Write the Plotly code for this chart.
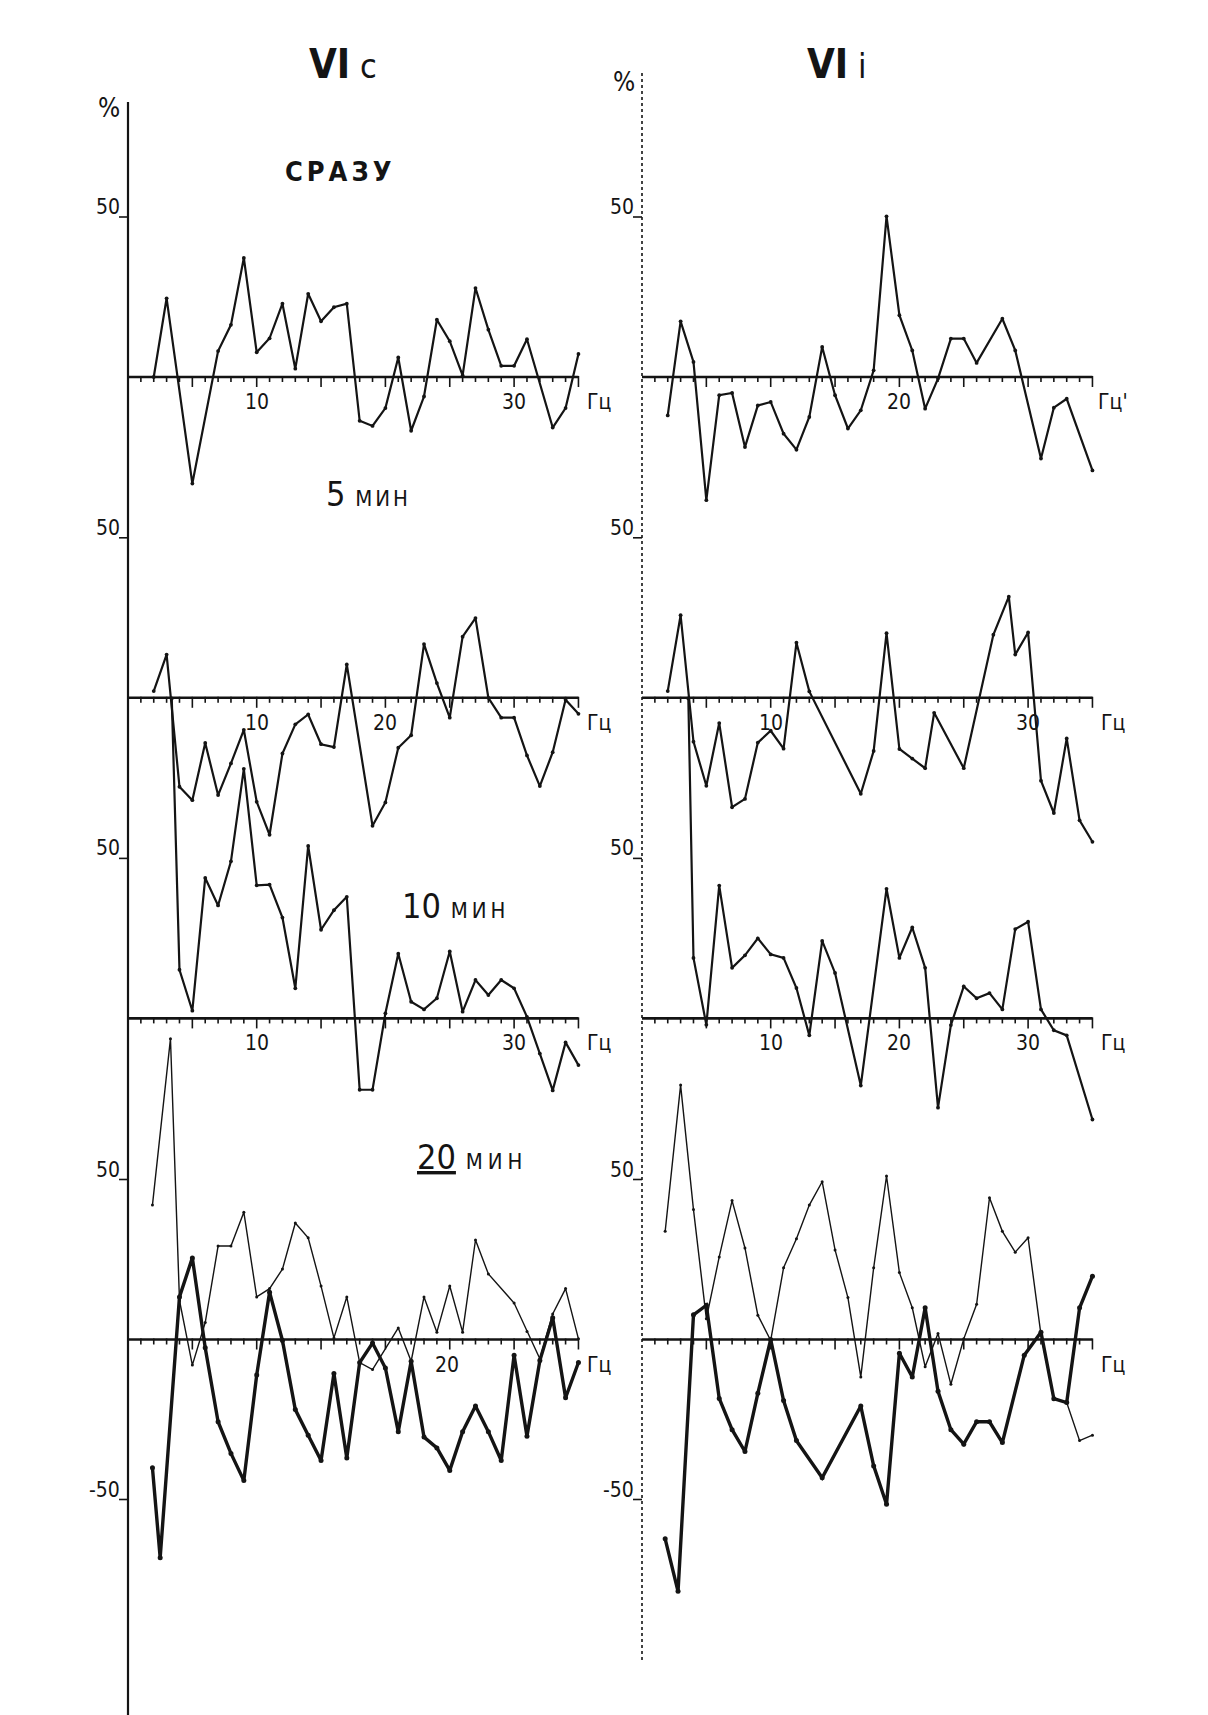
import plotly.graph_objects as go

# ---------------------------------------------------------------
# Page and scale geometry (pixels)
# ---------------------------------------------------------------
W, H = 1208, 1715
PX_PER_HZ = 12.87           # one frequency step along each baseline
PX_PER_PCT = 3.2            # one percent on the vertical scale
AXIS_PX_C = 128.0           # vertical axis of the "VIc" column
AXIS_PX_I = 642.0           # vertical axis of the "VIi" column
BASE_PX = [377.0, 697.8, 1018.4, 1339.5]   # zero line of each time panel
HZ_END = 35
HZ_TICKS = list(range(1, HZ_END + 1))

INK = "#141414"
NUM_FONT = "DejaVu Sans Condensed, DejaVu Sans"

# ---------------------------------------------------------------
# VIc, % change vs. frequency (Гц)
# ---------------------------------------------------------------
c0_hz = [2, 3, 5, 7, 8, 9, 10, 11, 12, 13, 14, 15, 16, 17, 18, 19, 20, 21, 22, 23,
         24, 25, 26, 27, 28, 29, 30, 31, 33, 34, 35]
c0_val = [0, 24.6, -33.3, 8.1, 16.3, 37.2, 7.7, 12.1, 22.9, 2.6, 26, 17.4, 21.8, 22.9,
          -13.7, -15.3, -9.7, 6.1, -16.8, -6.1, 17.9, 11.2, 0.5, 27.8, 14.8, 3.5, 3.5,
          11.8, -15.8, -9.7, 7.2]

c1_hz = [2, 3, 4, 5, 6, 7, 8, 9, 10, 11, 12, 13, 14, 15, 16, 17, 19, 20, 21, 22, 23,
         24, 25, 26, 27, 28, 29, 30, 31, 32, 33, 34, 35]
c1_val = [2.1, 13.5, -27.8, -32, -14.1, -30.4, -20.5, -10, -32.5, -42.8, -17.4, -8.3,
          -5.2, -14.5, -15.4, 10.4, -40, -32.7, -15.6, -11.7, 16.8, 4.6, -6.2, 19.1,
          24.9, 0, -6.2, -6.2, -18, -27.6, -17, -0.6, -5]

c2_hz = [3.4, 4, 5, 6, 7, 8, 9, 10, 11, 12, 13, 14, 15, 16, 17, 18, 19, 20, 21, 22,
         23, 24, 25, 26, 27, 28, 29, 30, 31, 32, 33, 34, 35]
c2_val = [100, 15.2, 2.4, 43.9, 35.3, 49.1, 78, 41.6, 41.8, 31.5, 9.4, 53.9, 27.7,
          33.8, 38, -22.3, -22.3, 1.6, 20.2, 5.2, 2.8, 6.3, 20.9, 2.1, 12, 7.3, 12,
          9.4, 0.5, -11, -22.5, -7.5, -14.6]

# 20 min: light curve (a) and heavy curve (b)
c3a_hz = [1.9, 3.3, 4, 5, 6, 7, 8, 9, 10, 11, 12, 13, 14, 15, 16, 17, 18, 19, 21, 22,
          23, 24, 25, 26, 27, 28, 30, 31, 32, 33, 34, 35]
c3a_val = [42, 94, 12.2, -8, 5.3, 29.2, 29.2, 39.8, 13.3, 15.9, 22, 36.4, 31.8, 16.7,
           0.5, 13.3, -7.2, -9.4, 3.6, -6.8, 13.3, 2.3, 16.7, 2.3, 31.1, 20.5, 11.4,
           2.5, -6, 8, 15.9, 0.2]

c3b_hz = [1.9, 2.5, 4, 5, 6, 7, 8, 9, 10, 11, 12, 13, 14, 15, 16, 17, 18, 19, 20, 21,
          22, 23, 24, 25, 26, 27, 28, 29, 30, 31, 32, 33, 34, 35]
c3b_val = [-40.1, -68.2, 13.3, 25.5, -2.6, -25.7, -35.6, -44.1, -11.1, 14.8, -0.3,
           -21.9, -29.9, -37.8, -10.6, -37, -7.2, -1.1, -8.9, -28.8, -6.8, -30.5, -33.9,
           -40.9, -28.8, -20.8, -28.8, -37.8, -4.9, -30.2, -6.6, 6.8, -18.2, -7.2]

# ---------------------------------------------------------------
# VIi, % change vs. frequency (Гц)
# ---------------------------------------------------------------
i0_hz = [2, 3, 4, 5, 6, 7, 8, 9, 10, 11, 12, 13, 14, 15, 16, 17, 18, 19, 20, 21, 22,
         23, 24, 25, 26, 28, 29, 31, 32, 33, 35]
i0_val = [-12, 17.4, 4.7, -38.5, -5.7, -5, -21.9, -8.9, -7.8, -17.7, -22.7, -12.5, 9.4,
          -5.7, -16.1, -10.4, 2.1, 50.2, 19.3, 8.3, -9.9, -0.5, 12, 12, 4.4, 18.2, 8.3,
          -25.5, -9.6, -6.8, -29.2]

i1_hz = [2, 3, 4, 5, 6, 7, 8, 9, 10, 11, 12, 13, 17, 18, 19, 20, 21, 22, 22.7, 25,
         27.3, 28.5, 29, 30, 31, 32, 33, 34, 35]
i1_val = [2.1, 25.8, -13.7, -27.5, -7.9, -34.2, -31.6, -14, -10.3, -15.9, 17.2, 2,
          -30, -16.6, 20.2, -16, -19, -22, -4.7, -22, 19.7, 31.6, 13.5, 20.4, -25.9,
          -36, -12.7, -38.3, -45]

i2_hz = [3.6, 4, 5, 6, 7, 8, 9, 10, 11, 12, 13, 14, 15, 17, 19, 20, 21, 22, 23, 24,
         25, 26, 27, 28, 29, 30, 31, 32, 33, 35]
i2_val = [100, 18.9, -2, 41.5, 15.8, 19.7, 25, 20, 18.9, 9.5, -5.3, 24.2, 14.2, -21,
          40.5, 18.9, 28.4, 15.8, -27.9, -2.1, 10, 6.3, 7.9, 2.8, 27.9, 30.2, 2.8,
          -3.7, -5.3, -31.6]

i3a_hz = [1.8, 3, 4, 5, 6, 7, 8, 9, 10, 11, 12, 13, 14, 15, 16, 17, 18, 19, 20, 21,
          22, 23, 24, 25, 26, 27, 28, 29, 30, 31, 32, 33, 34, 35]
i3a_val = [33.8, 79.5, 40.6, 6.5, 25.8, 43.4, 28.6, 7.6, -0.3, 22.4, 31.5, 42, 49.3,
           28, 13.1, -11.7, 22.4, 51.1, 20.9, 9.9, -8.5, 1.9, -14, 0.2, 11, 44.3, 33.8,
           27.3, 31.8, 1.5, -18.5, -19.7, -31.6, -29.9]

i3b_hz = [1.8, 2.8, 4, 5, 6, 7, 8, 9, 10, 11, 12, 14, 17, 18, 19, 20, 21, 22, 23, 24,
          25, 26, 27, 28, 29.7, 31, 32, 33, 34, 35]
i3b_val = [-62.3, -78.7, 7.7, 10.7, -18.4, -28.2, -35, -16.8, 0, -19.1, -31.6, -43.2,
           -20.8, -39.5, -51.5, -4.3, -11.7, 9.9, -16.2, -28.2, -32.7, -25.7, -25.7,
           -32.2, -4.9, 2.3, -18.5, -19.7, 9.9, 19.8]

# Frequency labels written under each zero line
c_tick_hz = [[10, 30], [10, 20], [10, 30], [24.8]]
c_tick_text = [["10", "30"], ["10", "20"], ["10", "30"], ["20"]]
i_tick_hz = [[20], [10, 30], [10, 20, 30], []]
i_tick_text = [["20"], ["10", "30"], ["10", "20", "30"], []]
unit_text_c = ["Гц", "Гц", "Гц", "Гц"]
unit_text_i = ["Гц'", "Гц", "Гц", "Гц"]
UNIT_HZ = 36.6

# ---------------------------------------------------------------
fig = go.Figure()

XREF = {"c": "x", "i": "x2"}
YREF = ["y", "y2", "y3", "y4"]


def add_curve(hz, val, col, k, width):
    fig.add_trace(go.Scatter(
        x=hz, y=val, xaxis=XREF[col], yaxis=YREF[k],
        mode="lines+markers",
        line=dict(color=INK, width=width, shape="linear"),
        marker=dict(size=width + 1.6, color=INK),
        hoverinfo="skip", showlegend=False,
    ))


add_curve(c0_hz, c0_val, "c", 0, 2.2)
add_curve(c1_hz, c1_val, "c", 1, 2.2)
add_curve(c2_hz, c2_val, "c", 2, 2.2)
add_curve(c3a_hz, c3a_val, "c", 3, 1.4)
add_curve(c3b_hz, c3b_val, "c", 3, 3.4)

add_curve(i0_hz, i0_val, "i", 0, 2.2)
add_curve(i1_hz, i1_val, "i", 1, 2.2)
add_curve(i2_hz, i2_val, "i", 2, 2.2)
add_curve(i3a_hz, i3a_val, "i", 3, 1.4)
add_curve(i3b_hz, i3b_val, "i", 3, 3.4)

shapes = []
annotations = []


def paper_x(px):
    return px / W


def paper_y(py):
    return 1 - py / H


# vertical % axes
shapes.append(dict(type="line", xref="x", yref="paper", x0=0, x1=0,
                   y0=paper_y(H), y1=paper_y(102), line=dict(color=INK, width=2.2)))
shapes.append(dict(type="line", xref="x2", yref="paper", x0=0, x1=0,
                   y0=paper_y(1660), y1=paper_y(70), line=dict(color=INK, width=1.6, dash="dot")))

for col, tick_hz, tick_text, unit_text in (("c", c_tick_hz, c_tick_text, unit_text_c),
                                            ("i", i_tick_hz, i_tick_text, unit_text_i)):
    xr = XREF[col]
    for k in range(4):
        yr = YREF[k]
        # zero line
        shapes.append(dict(type="line", xref=xr, yref=yr, x0=0, x1=HZ_END, y0=0, y1=0,
                           line=dict(color=INK, width=2.6)))
        # 1 Hz ticks, longer every 5 Hz
        for f in HZ_TICKS:
            shapes.append(dict(type="line", xref=xr, yref=yr, ysizemode="pixel", yanchor=0,
                               x0=f, x1=f, y0=1, y1=-10 if f % 5 == 0 else -5,
                               line=dict(color=INK, width=1.6)))
        # 50 % marks on the vertical axis
        levels = [50, -50] if k == 3 else [50]
        for lv in levels:
            shapes.append(dict(type="line", xref=xr, yref=yr, xsizemode="pixel", xanchor=0,
                               x0=-9, x1=0, y0=lv, y1=lv, line=dict(color=INK, width=1.6)))
            annotations.append(dict(xref=xr, yref=yr, x=0, y=lv, text=str(lv),
                                    showarrow=False, xanchor="right", yanchor="middle",
                                    xshift=-6, yshift=10,
                                    font=dict(family=NUM_FONT, size=21, color=INK)))
        # frequency numbers and unit
        for f, t in zip(tick_hz[k], tick_text[k]):
            annotations.append(dict(xref=xr, yref=yr, x=f, y=0, text=t, showarrow=False,
                                    xanchor="center", yanchor="middle", yshift=-25,
                                    font=dict(family=NUM_FONT, size=21, color=INK)))
        annotations.append(dict(xref=xr, yref=yr, x=UNIT_HZ, y=0, text=unit_text[k],
                                showarrow=False, xanchor="center", yanchor="middle",
                                yshift=-25, font=dict(family=NUM_FONT, size=21, color=INK)))


def page_text(x, y, text, size, family=NUM_FONT, **kw):
    annotations.append(dict(xref="paper", yref="paper", x=paper_x(x), y=paper_y(y),
                            text=text, showarrow=False, xanchor="center", yanchor="middle",
                            font=dict(family=family, size=size, color=INK), **kw))


# column headings and percent signs
page_text(343, 64, "<b>VI</b><span style='font-size:34px'> c</span>", 40)
page_text(836, 64, "<b>VI</b><span style='font-size:34px'> i</span>", 40)
page_text(109, 108, "%", 26)
page_text(624, 82, "%", 26)

# time-point captions
page_text(340, 172, "<b><span style='letter-spacing:4px'>СРАЗУ</span></b>", 27)
page_text(368, 494, "5 <span style='font-size:22px;letter-spacing:3px'>МИН</span>", 34)
page_text(455, 906, "10 <span style='font-size:22px;letter-spacing:4px'>МИН</span>", 34)
page_text(472, 1157, "<u>20</u> <span style='font-size:22px;letter-spacing:5px'>МИН</span>", 34)

fig.update_layout(
    width=W, height=H, autosize=False,
    margin=dict(l=0, r=0, t=0, b=0),
    paper_bgcolor="white", plot_bgcolor="rgba(0,0,0,0)",
    showlegend=False,
    xaxis=dict(domain=[0, 1], range=[-AXIS_PX_C / PX_PER_HZ, (W - AXIS_PX_C) / PX_PER_HZ],
               visible=False, fixedrange=True, anchor="y"),
    xaxis2=dict(domain=[0, 1], range=[-AXIS_PX_I / PX_PER_HZ, (W - AXIS_PX_I) / PX_PER_HZ],
                visible=False, fixedrange=True, anchor="y", overlaying="x"),
    shapes=shapes,
    annotations=annotations,
)

for k in range(4):
    ax = dict(domain=[0, 1],
              range=[-(H - BASE_PX[k]) / PX_PER_PCT, BASE_PX[k] / PX_PER_PCT],
              visible=False, fixedrange=True, anchor="x")
    if k:
        ax["overlaying"] = "y"
    fig.update_layout({("yaxis" if k == 0 else f"yaxis{k + 1}"): ax})

fig.write_html("out.html", include_plotlyjs=True, config={"displayModeBar": False})
